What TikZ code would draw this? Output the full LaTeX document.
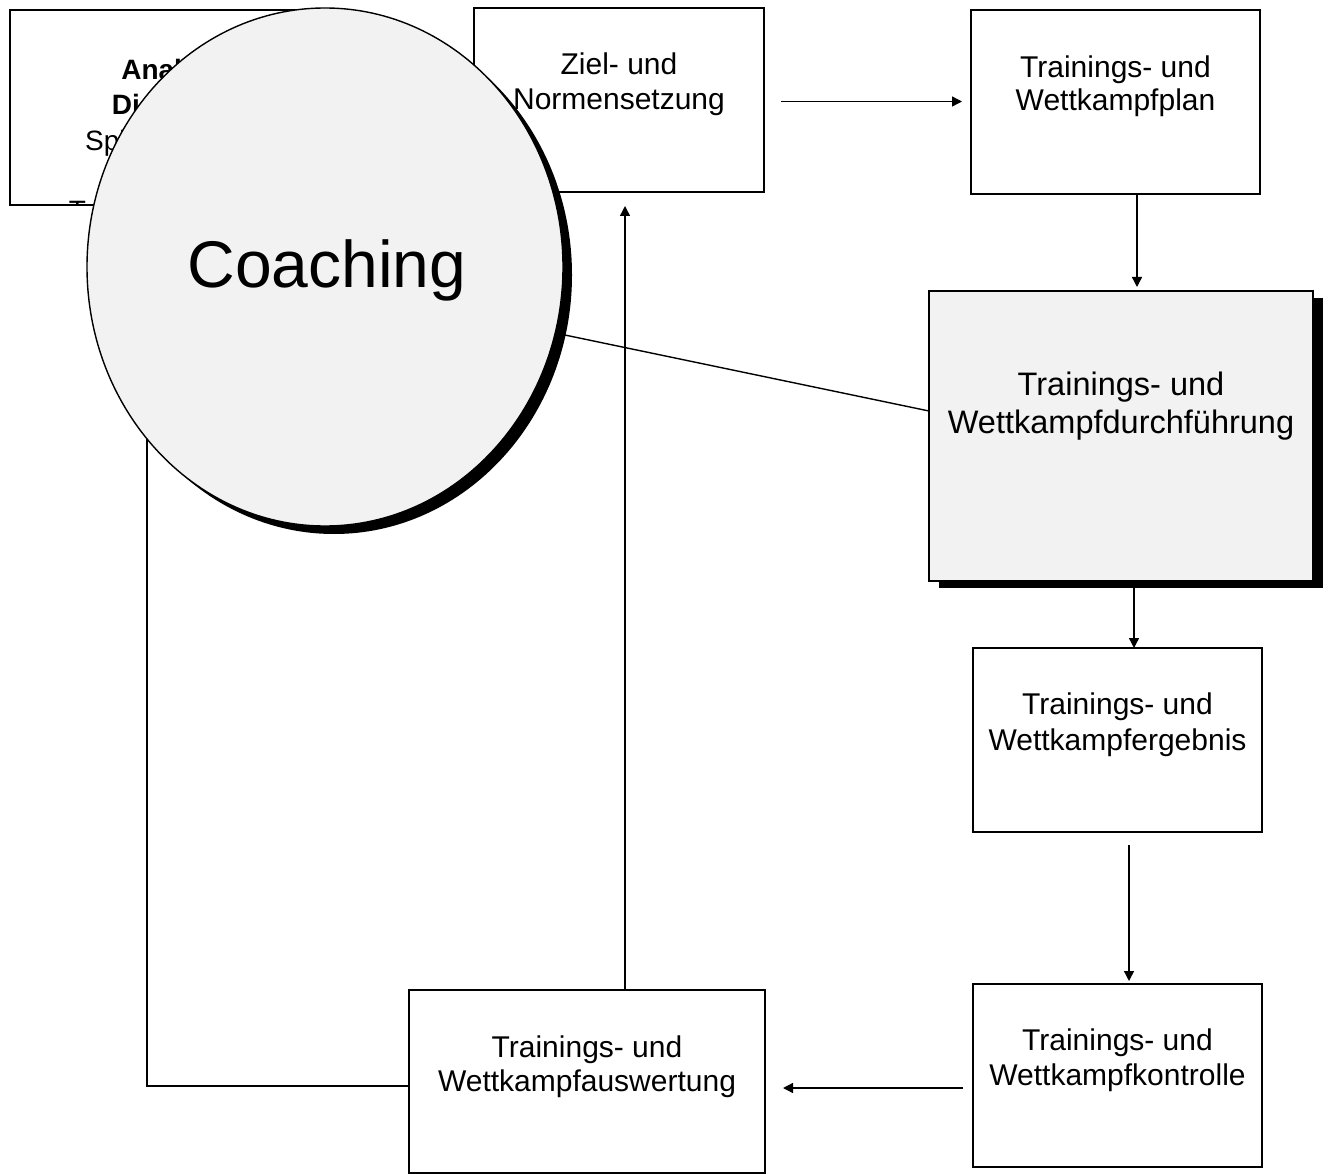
\documentclass[tikz,border=0pt]{standalone}
\usepackage{fontspec}
\setmainfont{Liberation Sans}
\usetikzlibrary{shapes.geometric,arrows.meta}
\definecolor{cgray}{RGB}{242,242,242}
\begin{document}
\begin{tikzpicture}[x=1pt,y=-1pt,
  box/.style={draw,line width=1.6pt,fill=white,inner sep=0pt,outer sep=0pt},
  shadowbox/.style={fill=black,inner sep=0pt,outer sep=0pt},
  txt/.style={anchor=base,inner sep=0pt,font=\fontsize{30}{34}\selectfont},
  bigtxt/.style={anchor=base,inner sep=0pt,font=\fontsize{32.5}{38}\selectfont},
  tltxt/.style={anchor=base,inner sep=0pt,font=\fontsize{28}{35}\selectfont},
  conn/.style={line width=1.4pt},
  arr/.style={conn,-{Triangle[length=10pt,width=10pt]}}]
\useasboundingbox (0,0) rectangle (1328,1174);
\fill[white] (0,0) rectangle (1328,1174);

% top-left box with clipped text
\node[box,minimum width=320pt,minimum height=195pt] (tl) at (170,107.5) {};
\begin{scope}
\clip (10,10) rectangle (330,205);
\node[tltxt,font=\fontsize{28}{35}\selectfont\bfseries] (tl1) at (175,80) {Analyse};
\node[tltxt,font=\fontsize{28}{35}\selectfont\bfseries] (tl2) at (175,115) {Diagnose};
\node[tltxt] (tl3) at (177,151) {Spielerleistung};
\node[tltxt] (tl4) at (175,186) {und};
\node[tltxt] (tl5) at (175,221) {Trainingszustand};
\end{scope}

% boxes
\node[box,minimum width=290pt,minimum height=184pt] (ziel) at (619,100) {};
\node[box,minimum width=289pt,minimum height=184pt] (plan) at (1115.5,102) {};
\node[shadowbox,minimum width=384pt,minimum height=290pt] (durchsh) at (1131,443) {};
\node[box,fill=cgray,minimum width=384pt,minimum height=290pt] (durch) at (1121,436) {};
\node[box,minimum width=289pt,minimum height=184pt] (erg) at (1117.5,740) {};
\node[box,minimum width=289pt,minimum height=183pt] (kon) at (1117.5,1075.5) {};
\node[box,minimum width=356pt,minimum height=183pt] (ausw) at (587,1081.5) {};

\coordinate (cc) at (325,267);

% connectors under the circle
\node[ellipse,inner sep=0pt,outer sep=0pt,minimum width=476pt,minimum height=518pt] (coachgeo) at (cc) {};
\draw[conn] ([yshift=-4.5pt]ausw.west) -| (coachgeo.224.8);
\draw[conn] (coachgeo.-16) -- ([yshift=25pt]durch.west);

% circle with shadow
\node[ellipse,fill=black,inner sep=0pt,outer sep=0pt,minimum width=476pt,minimum height=518pt] (coachsh) at (334,275) {};
\node[ellipse,draw,line width=1.4pt,fill=cgray,inner sep=0pt,outer sep=0pt,minimum width=476pt,minimum height=518pt] (coach) at (cc) {};
\node[anchor=base,inner sep=0pt,font=\fontsize{66}{70}\selectfont] (coachT) at (327,288) {Coaching};

% box texts
\node[txt] (ziel1) at (619,75) {Ziel- und};
\node[txt] (ziel2) at (619,110) {Normensetzung};
\node[txt] (plan1) at (1115.5,78) {Trainings- und};
\node[txt] (plan2) at (1115.5,111) {Wettkampfplan};
\node[bigtxt] (durch1) at (1121,395) {Trainings- und};
\node[bigtxt] (durch2) at (1121,433) {Wettkampfdurchführung};
\node[txt] (erg1) at (1117.5,714) {Trainings- und};
\node[txt] (erg2) at (1117.5,750) {Wettkampfergebnis};
\node[txt] (kon1) at (1117.5,1050.5) {Trainings- und};
\node[txt] (kon2) at (1117.5,1085.5) {Wettkampfkontrolle};
\node[txt] (ausw1) at (587,1057) {Trainings- und};
\node[txt] (ausw2) at (587,1091) {Wettkampfauswertung};

% arrows
\coordinate (z1) at ([xshift=17pt,yshift=-1.5pt]ziel.east);
\draw[arr,shorten >=9pt] (z1) -- (z1 -| plan.west);
\coordinate (p1) at ([xshift=21.5pt]plan.south);
\draw[arr,shorten >=4pt] (p1) -- (p1 |- durch.north);
\coordinate (d1) at ([xshift=13pt,yshift=-7pt]durch.south);
\draw[arr] (d1) -- (d1 |- erg.north);
\coordinate (e1) at ([xshift=11.5pt,yshift=-13pt]erg.south);
\draw[arr,shorten >=3pt] (e1) -- (e1 |- kon.north);
\coordinate (k1) at ([xshift=-10pt,yshift=-12.5pt]kon.west);
\draw[arr,shorten >=18pt] (k1) -- (k1 -| ausw.east);
\coordinate (a1) at ([xshift=38pt]ausw.north);
\draw[arr,shorten >=14pt] (a1) -- (a1 |- ziel.south);
\end{tikzpicture}
\end{document}
